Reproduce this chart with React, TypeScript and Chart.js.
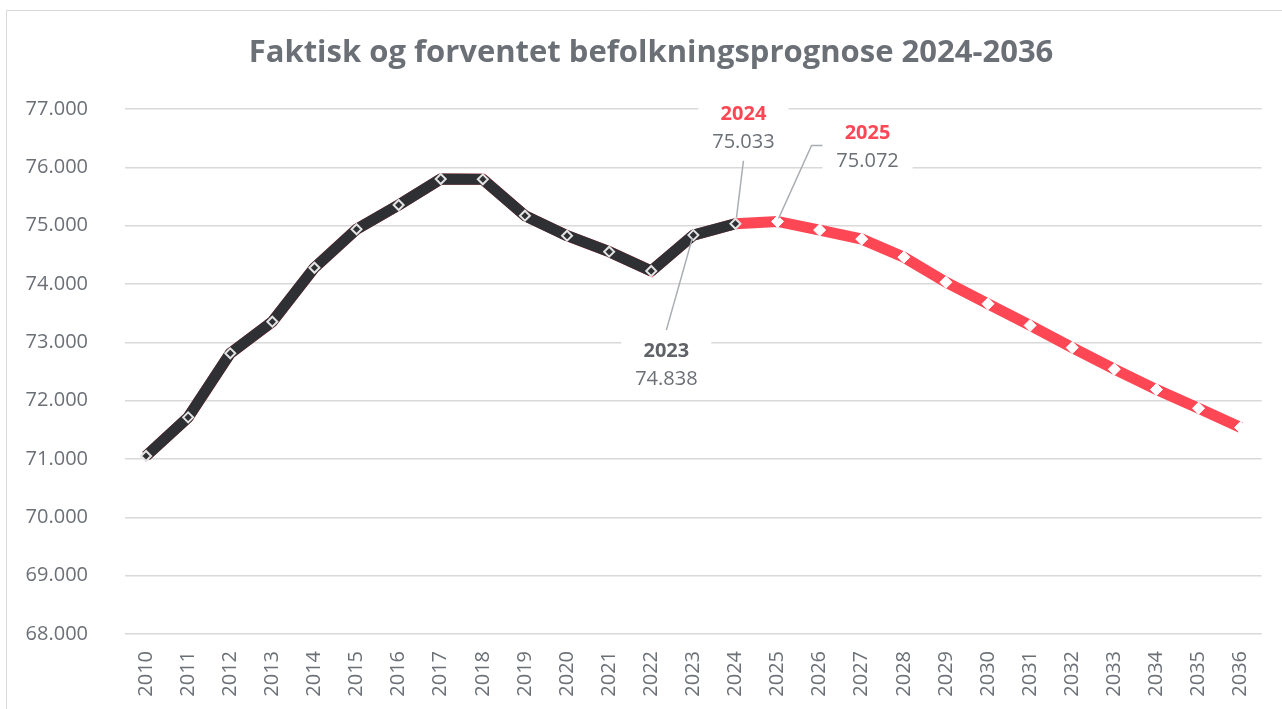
import React, { useEffect, useRef } from "react";
import { Chart, registerables } from "chart.js";

Chart.register(...registerables);

const years: string[] = [
  "2010", "2011", "2012", "2013", "2014", "2015", "2016", "2017", "2018",
  "2019", "2020", "2021", "2022", "2023", "2024", "2025", "2026", "2027",
  "2028", "2029", "2030", "2031", "2032", "2033", "2034", "2035", "2036",
];

// Actual population 2010-2024
const actual: (number | null)[] = [
  71051, 71714, 72812, 73354, 74279, 74938, 75354, 75800, 75795,
  75171, 74828, 74554, 74223, 74838, 75033,
];

// Full line incl. projection 2025-2036
const projection: number[] = [
  71051, 71714, 72812, 73354, 74279, 74938, 75354, 75800, 75795,
  75171, 74828, 74554, 74223, 74838, 75033, 75072, 74925, 74770,
  74460, 74030, 73660, 73290, 72910, 72540, 72190, 71870, 71540,
];

const yTicks: number[] = [68000, 69000, 70000, 71000, 72000, 73000, 74000, 75000, 76000, 77000];

const highlighted: { year: string; color: string }[] = [
  { year: "2023", color: "#5f6368" },
  { year: "2024", color: "#fd4755" },
  { year: "2025", color: "#fd4755" },
];

const TITLE = "Faktisk og forventet befolkningsprognose 2024-2036";
const FONT = "'Open Sans', 'DejaVu Sans', sans-serif";
const GRAY = "#6b7077";
const RED = "#fd4755";
const DARK = "#2e3033";

const fmt = (v: number) => {
  const s = Math.round(v).toString();
  return s.replace(/\B(?=(\d{3})+(?!\d))/g, ".");
};

const frame = {
  id: "frame",
  beforeDraw(chart: any) {
    const ctx = chart.ctx;
    ctx.save();
    ctx.fillStyle = "#ffffff";
    ctx.fillRect(0, 0, chart.width, chart.height);
    ctx.strokeStyle = "#d9d9d9";
    ctx.lineWidth = 1;
    ctx.beginPath();
    ctx.moveTo(6.5, chart.height);
    ctx.lineTo(6.5, 10.5);
    ctx.lineTo(chart.width, 10.5);
    ctx.stroke();
    // title
    ctx.fillStyle = GRAY;
    ctx.font = `bold 31px ${FONT}`;
    ctx.textAlign = "center";
    ctx.textBaseline = "middle";
    ctx.fillText(TITLE, 651, 53.6);
    ctx.restore();
  },
};

const callouts = {
  id: "callouts",
  afterDatasetsDraw(chart: any) {
    const ctx = chart.ctx;
    const xs = chart.scales.x;
    const ys = chart.scales.y;
    const pt = (year: string) => {
      const i = years.indexOf(year);
      return { x: xs.getPixelForValue(i), y: ys.getPixelForValue(projection[i]), v: projection[i] };
    };
    const layouts: Record<string, { dx: number; dy: number; leader: (p: any) => number[][] }> = {
      "2023": { dx: -27, dy: 116, leader: (p) => [[p.x - 1, p.y + 3], [p.x - 27, p.y + 95]] },
      "2024": { dx: 8, dy: -109, leader: (p) => [[p.x + 1, p.y - 6], [p.x + 8, p.y - 63]] },
      "2025": { dx: 90, dy: -88, leader: (p) => [[p.x + 1, p.y - 3], [p.x + 34, p.y - 76], [p.x + 45, p.y - 76]] },
    };
    ctx.save();
    highlighted.forEach((h) => {
      const p = pt(h.year);
      const L = layouts[h.year];
      const cx = p.x + L.dx;
      const cy = p.y + L.dy;
      ctx.fillStyle = "#ffffff";
      ctx.fillRect(cx - 45, cy - 16, 90, 60);
      ctx.strokeStyle = "#a9adb1";
      ctx.lineWidth = 1.5;
      ctx.beginPath();
      const path = L.leader(p);
      path.forEach((q, k) => (k === 0 ? ctx.moveTo(q[0], q[1]) : ctx.lineTo(q[0], q[1])));
      ctx.stroke();
      ctx.textAlign = "center";
      ctx.textBaseline = "middle";
      ctx.fillStyle = h.color;
      ctx.font = `bold 20px ${FONT}`;
      ctx.fillText(h.year, cx, cy);
      ctx.fillStyle = GRAY;
      ctx.font = `20px ${FONT}`;
      ctx.fillText(fmt(p.v), cx, cy + 28);
    });
    ctx.restore();
  },
};

export default function App() {
  const ref = useRef<HTMLCanvasElement | null>(null);
  useEffect(() => {
    if (!ref.current) return;
    const chart = new Chart(ref.current, {
      type: "line",
      data: {
        labels: years,
        datasets: [
          {
            label: "Faktisk",
            data: actual,
            borderColor: DARK,
            backgroundColor: DARK,
            borderWidth: 11,
            borderJoinStyle: "bevel",
            pointStyle: "rectRot",
            pointRadius: 5,
            pointBackgroundColor: DARK,
            pointBorderColor: "#e3e3e3",
            pointBorderWidth: 2,
            tension: 0,
            order: 0,
          },
          {
            label: "Forventet",
            data: projection,
            borderColor: RED,
            backgroundColor: RED,
            borderWidth: 11,
            borderJoinStyle: "miter",
            pointStyle: "rectRot",
            pointRadius: projection.map((_, i) => (i > 14 ? 6 : 0)),
            pointBackgroundColor: "#ffffff",
            pointBorderColor: "#ffffff",
            pointBorderWidth: 1,
            tension: 0,
            order: 1,
          },
        ],
      },
      options: {
        animation: false,
        responsive: false,
        layout: { padding: { left: 0, right: 19, top: 109, bottom: 0 } },
        plugins: {
          legend: { display: false },
          tooltip: { enabled: false },
          title: { display: false },
        },
        scales: {
          x: {
            offset: true,
            grid: { display: false, drawTicks: false },
            border: { display: false },
            ticks: {
              color: GRAY,
              font: { family: FONT, size: 20 },
              minRotation: 90,
              maxRotation: 90,
              padding: 17,
              autoSkip: false,
            },
            afterFit: (s: any) => {
              s.height = 75;
            },
          },
          y: {
            min: 68000,
            max: 77000,
            afterBuildTicks: (s: any) => {
              s.ticks = yTicks.map((v) => ({ value: v }));
            },
            grid: { color: "#d9d9d9", lineWidth: 1.5, drawTicks: false },
            border: { display: false },
            ticks: {
              color: GRAY,
              font: { family: FONT, size: 20 },
              padding: 37,
              callback: (v: any) => fmt(Number(v)),
            },
            afterFit: (s: any) => {
              s.width = 125;
            },
          },
        },
      },
      plugins: [frame, callouts],
    });
    return () => chart.destroy();
  }, []);
  return (
    <div style={{ position: "absolute", left: 0, top: 0, width: 1282, height: 709 }}>
      <canvas ref={ref} width={1282} height={709} />
    </div>
  );
}
